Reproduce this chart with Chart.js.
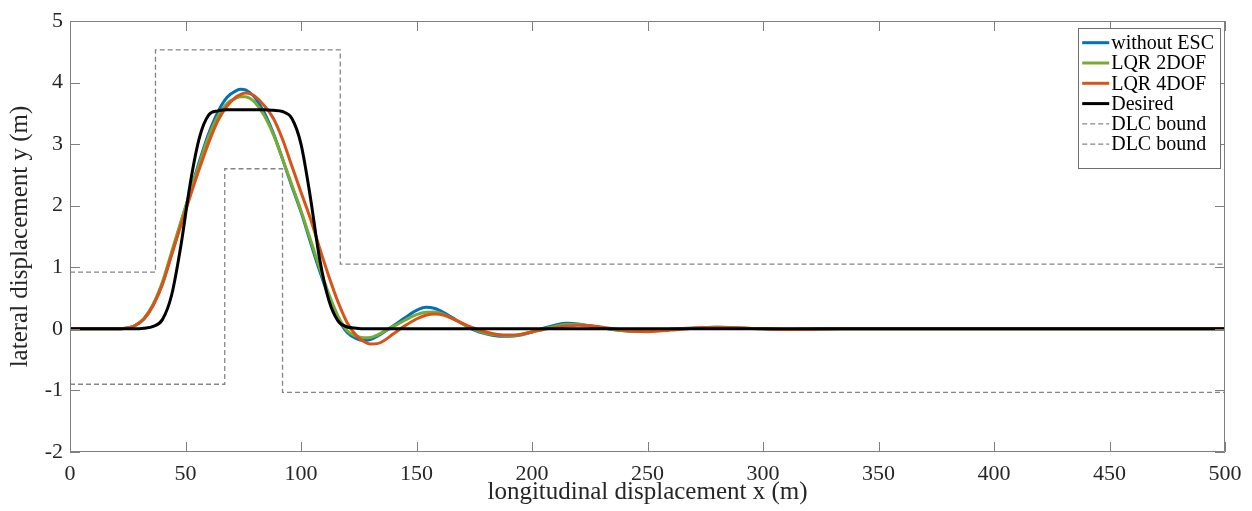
<!DOCTYPE html>
<html>
<head>
<meta charset="utf-8">
<title>DLC lateral displacement</title>
<script src="https://cdn.jsdelivr.net/npm/chart.js@4.4.0/dist/chart.umd.min.js"></script>
<style>
    html, body { margin: 0; padding: 0; background: #fff; }
    #wrap { width: 1252px; height: 511px; }
</style>
</head>
<body>
<div id="wrap"><canvas id="dlcChart" width="1252" height="511"></canvas></div>
<script>
const xGrid = [0, 10, 20, 24, 28, 32, 36, 40, 44, 48, 52, 56, 60, 64, 68, 72, 74, 76, 78, 80,
    84, 88, 92, 96, 100, 104, 108, 112, 116, 120, 124, 127, 130, 133, 136, 140, 145, 150, 154, 158,
    162, 166, 170, 175, 180, 185, 190, 195, 200, 205, 210, 215, 220, 225, 230, 235, 240, 245, 250, 255,
    260, 270, 280, 290, 300, 310, 320, 335, 350, 400, 450, 500];

// lateral displacement (m) for each series
const yWithoutEsc = [0, 0, 0, 0.01, 0.05, 0.16, 0.39, 0.74, 1.22, 1.72, 2.22, 2.72, 3.17, 3.52, 3.76, 3.87, 3.89, 3.88, 3.83, 3.76,
    3.52, 3.18, 2.76, 2.32, 1.9, 1.42, 0.95, 0.52, 0.17, -0.06, -0.16, -0.19, -0.175, -0.12, -0.05, 0.05, 0.18, 0.3, 0.35, 0.33,
    0.26, 0.17, 0.08, -0.02, -0.08, -0.115, -0.12, -0.1, -0.05, 0.01, 0.06, 0.09, 0.08, 0.05, 0.02, -0.01, -0.03, -0.04, -0.03, -0.02,
    -0.005, 0.015, 0.025, 0.015, 0, -0.01, -0.006, 0, 0.002, 0, 0, 0];

const yLqr2Dof = [0, 0, 0, 0.01, 0.05, 0.17, 0.4, 0.76, 1.25, 1.74, 2.22, 2.68, 3.12, 3.45, 3.66, 3.75, 3.77, 3.77, 3.74, 3.68,
    3.47, 3.16, 2.76, 2.34, 1.92, 1.46, 1.0, 0.57, 0.21, -0.03, -0.12, -0.145, -0.14, -0.1, -0.04, 0.04, 0.14, 0.23, 0.27, 0.275,
    0.23, 0.16, 0.08, -0.01, -0.07, -0.1, -0.11, -0.095, -0.05, 0, 0.04, 0.07, 0.07, 0.05, 0.02, -0.01, -0.03, -0.04, -0.035, -0.02,
    -0.01, 0.01, 0.02, 0.012, 0, -0.008, -0.005, 0, 0.002, 0, 0, 0];

const yLqr4Dof = [0, 0, 0, 0.01, 0.05, 0.16, 0.38, 0.72, 1.2, 1.68, 2.15, 2.6, 3.02, 3.38, 3.62, 3.77, 3.81, 3.83, 3.82, 3.78,
    3.63, 3.42, 3.08, 2.65, 2.22, 1.8, 1.32, 0.86, 0.44, 0.1, -0.11, -0.2, -0.245, -0.24, -0.19, -0.08, 0.05, 0.16, 0.22, 0.24,
    0.22, 0.16, 0.09, 0.01, -0.05, -0.09, -0.1, -0.09, -0.05, -0.01, 0.02, 0.045, 0.06, 0.05, 0.03, 0, -0.025, -0.04, -0.045, -0.035,
    -0.02, 0.01, 0.025, 0.015, 0, -0.01, -0.008, 0, 0.003, 0, 0, 0];

const yDesired = [0, 0, 0, 0, 0, 0.01, 0.04, 0.15, 0.55, 1.35, 2.35, 3.1, 3.47, 3.54, 3.56, 3.56, 3.56, 3.56, 3.56, 3.56,
    3.56, 3.55, 3.53, 3.42, 3.0, 2.15, 1.15, 0.47, 0.13, 0.03, 0.01, 0, 0, 0, 0, 0, 0, 0, 0, 0,
    0, 0, 0, 0, 0, 0, 0, 0, 0, 0, 0, 0, 0, 0, 0, 0, 0, 0, 0, 0,
    0, 0, 0, 0, 0, 0, 0, 0, 0, 0, 0, 0];

// double lane change cone boundaries
const dlcUpperX = [0, 37, 37, 117, 117, 500];
const dlcUpperY = [0.92, 0.92, 4.53, 4.53, 1.05, 1.05];
const dlcLowerX = [0, 67, 67, 92, 92, 500];
const dlcLowerY = [-0.9, -0.9, 2.6, 2.6, -1.03, -1.03];

const serif = '"Liberation Serif", "Times New Roman", serif';
const axisGray = '#7f7f7f';

function toPoints(xs, ys) {
    return xs.map((x, i) => ({ x: x, y: ys[i] }));
}

// caixa com ticks para dentro, no estilo MATLAB
const boxTicks = {
    id: 'boxTicks',
    afterDatasetsDraw(chart) {
        const { ctx, chartArea: a, scales } = chart;
        const len = 10;
        ctx.save();
        ctx.strokeStyle = axisGray;
        ctx.lineWidth = 1;
        ctx.beginPath();
        ctx.rect(Math.round(a.left) + 0.5, Math.round(a.top) + 0.5,
            Math.round(a.right - a.left) - 1, Math.round(a.bottom - a.top) - 1);
        scales.x.ticks.forEach(t => {
            const px = Math.round(scales.x.getPixelForValue(t.value)) + 0.5;
            ctx.moveTo(px, a.bottom); ctx.lineTo(px, a.bottom - len);
            ctx.moveTo(px, a.top); ctx.lineTo(px, a.top + len);
        });
        scales.y.ticks.forEach(t => {
            const py = Math.round(scales.y.getPixelForValue(t.value)) + 0.5;
            ctx.moveTo(a.left, py); ctx.lineTo(a.left + len, py);
            ctx.moveTo(a.right, py); ctx.lineTo(a.right - len, py);
        });
        ctx.stroke();
        ctx.restore();
    }
};

// legenda dentro da área do gráfico, canto superior direito
const boxLegend = {
    id: 'boxLegend',
    afterDraw(chart) {
        const { ctx, chartArea: a } = chart;
        const sets = chart.data.datasets;
        const rowH = 20.3;
        const sampleW = 27;
        ctx.save();
        ctx.font = '20px ' + serif;
        const textW = Math.max(...sets.map(d => ctx.measureText(d.label).width));
        const w = 4 + sampleW + 2 + textW + 6;
        const h = sets.length * rowH + 18;
        const right = a.right - 5;
        const left = right - w;
        const top = a.top + 7;
        ctx.fillStyle = '#fff';
        ctx.fillRect(left, top, w, h);
        ctx.strokeStyle = '#6f6f6f';
        ctx.lineWidth = 1;
        ctx.strokeRect(Math.round(left) + 0.5, Math.round(top) + 0.5, Math.round(w), Math.round(h));
        sets.forEach((d, i) => {
            const cy = top + 14.7 + i * rowH;
            ctx.beginPath();
            ctx.setLineDash(d.borderDash || []);
            ctx.strokeStyle = d.borderColor;
            ctx.lineWidth = d.borderWidth;
            ctx.moveTo(left + 4, cy);
            ctx.lineTo(left + 4 + sampleW, cy);
            ctx.stroke();
            ctx.setLineDash([]);
            ctx.fillStyle = '#000';
            ctx.textAlign = 'left';
            ctx.textBaseline = 'middle';
            ctx.fillText(d.label, left + 4 + sampleW + 2, cy + 1);
        });
        ctx.restore();
    }
};

const ctx = document.getElementById('dlcChart').getContext('2d');

new Chart(ctx, {
    type: 'line',
    data: {
        datasets: [
            {
                label: 'without ESC',
                data: toPoints(xGrid, yWithoutEsc),
                borderColor: '#0072BD',
                borderWidth: 3,
                cubicInterpolationMode: 'monotone',
                order: 5
            },
            {
                label: 'LQR 2DOF',
                data: toPoints(xGrid, yLqr2Dof),
                borderColor: '#77AC30',
                borderWidth: 3,
                cubicInterpolationMode: 'monotone',
                order: 4
            },
            {
                label: 'LQR 4DOF',
                data: toPoints(xGrid, yLqr4Dof),
                borderColor: '#D95319',
                borderWidth: 3,
                cubicInterpolationMode: 'monotone',
                order: 3
            },
            {
                label: 'Desired',
                data: toPoints(xGrid, yDesired),
                borderColor: '#000000',
                borderWidth: 3,
                cubicInterpolationMode: 'monotone',
                order: 2
            },
            {
                label: 'DLC bound',
                data: toPoints(dlcUpperX, dlcUpperY),
                borderColor: '#858585',
                borderWidth: 1.3,
                borderDash: [5, 3],
                order: 1
            },
            {
                label: 'DLC bound',
                data: toPoints(dlcLowerX, dlcLowerY),
                borderColor: '#858585',
                borderWidth: 1.3,
                borderDash: [5, 3],
                order: 0
            }
        ]
    },
    options: {
        responsive: false,
        animation: false,
        events: [],
        layout: { padding: { top: 21, right: 27, left: 0, bottom: 0 } },
        elements: {
            point: { radius: 0 },
            line: { fill: false, tension: 0 }
        },
        scales: {
            x: {
                type: 'linear',
                min: 0,
                max: 500,
                grid: { display: false, drawTicks: false },
                border: { display: false },
                ticks: {
                    stepSize: 50,
                    padding: 9,
                    color: '#262626',
                    font: { family: serif, size: 22 }
                },
                title: {
                    display: true,
                    text: 'longitudinal displacement x (m)',
                    color: '#262626',
                    font: { family: serif, size: 25 },
                    padding: { top: 0, bottom: 4 }
                },
                afterFit(scale) { scale.height = 59; }
            },
            y: {
                type: 'linear',
                min: -2,
                max: 5,
                grid: { display: false, drawTicks: false },
                border: { display: false },
                ticks: {
                    stepSize: 1,
                    padding: 7,
                    color: '#262626',
                    font: { family: serif, size: 22 }
                },
                title: {
                    display: true,
                    text: 'lateral displacement y (m)',
                    color: '#262626',
                    font: { family: serif, size: 25 },
                    padding: { top: 5, bottom: 0 }
                },
                afterFit(scale) { scale.width = 70; }
            }
        },
        plugins: {
            legend: { display: false },
            tooltip: { enabled: false }
        }
    },
    plugins: [boxTicks, boxLegend]
});
</script>
</body>
</html>
